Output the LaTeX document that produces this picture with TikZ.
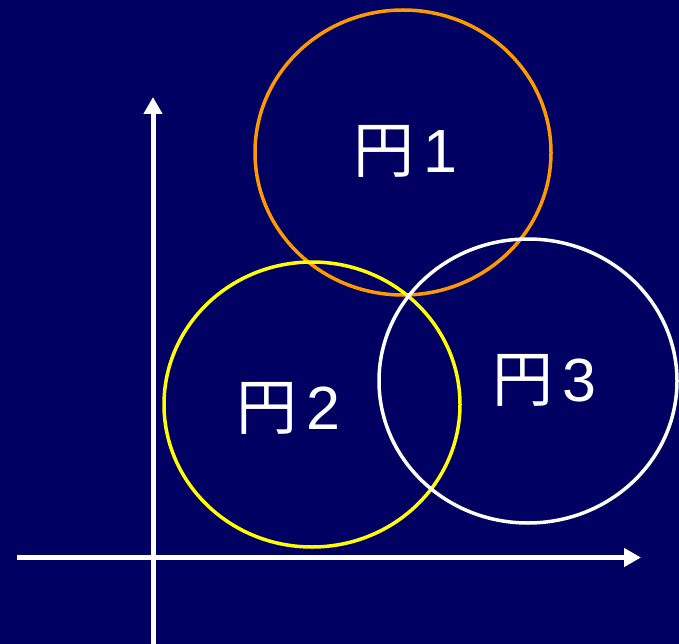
\documentclass[tikz,border=0pt]{standalone}
\usepackage{fontspec}
\setmainfont{Liberation Sans}
\newfontfamily\cjk{Noto Sans CJK JP}
\usetikzlibrary{arrows.meta,shapes.geometric}
\definecolor{bgnavy}{HTML}{000062}
\definecolor{circorange}{HTML}{FF9900}
\definecolor{circyellow}{HTML}{FFFF00}
\tikzset{
  axis/.style={white, line width=5pt, -{Triangle[length=17pt,width=18pt]}},
  ring/.style={line width=3.5pt, ellipse, inner sep=0pt},
  lbl/.style={white, font=\fontsize{61}{63}\selectfont, inner sep=0pt}
}
\newcommand{\enlabel}[1]{{\cjk 円}\hspace{9pt}#1}
\begin{document}
\begin{tikzpicture}[x=1pt,y=-1pt]
\fill[bgnavy] (0,0) rectangle (679,644);
\useasboundingbox (0,0) rectangle (679,644);
\coordinate (ybot) at (153,644);
\coordinate (ytop) at (153,97);
\coordinate (xleft) at (17,557.5);
\coordinate (xright) at (641,557.5);
\draw[axis] (ybot) -- (ytop);
\draw[axis] (xleft) -- (xright);
\node[ring, draw=circorange, minimum width=296pt, minimum height=285pt] (c1) at (403,152.5) {};
\node[ring, draw=circyellow, minimum width=296pt, minimum height=285pt] (c2) at (312,404.5) {};
\node[ring, draw=white, minimum width=298pt, minimum height=284pt] (c3) at (528,381) {};
\node[lbl] (t1) at (405,151) {\enlabel{1}};
\node[lbl] (t2) at (288,408) {\enlabel{2}};
\node[lbl] (t3) at (544,380) {\enlabel{3}};
\end{tikzpicture}
\end{document}
